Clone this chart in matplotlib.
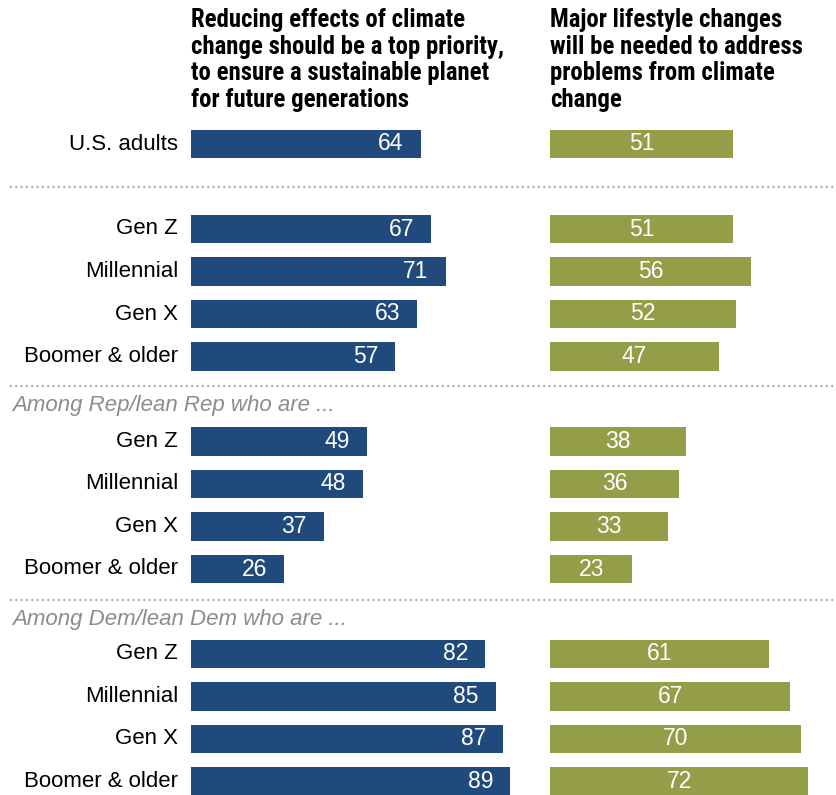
import matplotlib

matplotlib.use("Agg")
import matplotlib.pyplot as plt

labels = ["U.S. adults",
          "Gen Z", "Millennial", "Gen X", "Boomer & older",
          "Gen Z", "Millennial", "Gen X", "Boomer & older",
          "Gen Z", "Millennial", "Gen X", "Boomer & older"]
priority = [64, 67, 71, 63, 57, 49, 48, 37, 26, 82, 85, 87, 89]
lifestyle = [51, 51, 56, 52, 47, 38, 36, 33, 23, 61, 67, 70, 72]
rows = [0, 2, 3, 4, 5, 7, 8, 9, 10, 12, 13, 14, 15]
sections = [(6.16, "Among Rep/lean Rep who are ..."),
            (11.18, "Among Dem/lean Dem who are ...")]
dividers = [1.0, 5.69, 10.73]

W, H = 836, 795
blue = "#214a7c"
olive = "#949d48"
gray = "#8c8c8c"
body = "Liberation Sans"

fig = plt.figure(figsize=(W / 100, H / 100), dpi=100, facecolor="white")

# row units: 42.5 px per row, first row centred at 144 px
ytop = -144 / 42.5
ybot = (H - 144) / 42.5
ppu = 3.586  # pixels per percentage point

base = fig.add_axes([0, 0, 1, 1])
base.set_xlim(0, W)
base.set_ylim(ybot, ytop)
base.axis("off")

ax1 = fig.add_axes([191 / W, 0, 355 / W, 1])
ax2 = fig.add_axes([550 / W, 0, 286 / W, 1])
ax1.set_xlim(0, 355 / ppu)
ax2.set_xlim(0, 286 / ppu)
for ax, vals, col in ((ax1, priority, blue), (ax2, lifestyle, olive)):
    ax.set_ylim(ybot, ytop)
    ax.axis("off")
    ax.barh(rows, vals, height=0.66, color=col)

for r, v in zip(rows, priority):
    ax1.annotate(str(v), (v, r), xytext=(-17, 0), textcoords="offset pixels",
                 ha="right", va="center", color="white", fontsize=16.5, family=body)
for r, v in zip(rows, lifestyle):
    ax2.text(v / 2, r, str(v), ha="center", va="center", color="white", fontsize=16.5, family=body)

for r, lab in zip(rows, labels):
    base.text(178, r, lab, ha="right", va="center", fontsize=16, color="black", family=body)

for y in dividers:
    base.plot([10, W], [y, y], color="#a6a6a6", linewidth=1.6, linestyle=(0, (0.8, 1.6)))
for y, s in sections:
    base.text(12, y, s, ha="left", va="center", fontsize=16, color=gray, style="italic",
              family=body)

hdr = dict(ha="left", va="top", fontsize=17.8, fontweight="bold", color="black",
           family="Roboto Condensed", linespacing=1.14)
fig.text(191 / W, 1 - 8 / H,
         "Reducing effects of climate\nchange should be a top priority,\nto ensure a sustainable planet\nfor future generations",
         **hdr)
fig.text(550 / W, 1 - 8 / H,
         "Major lifestyle changes\nwill be needed to address\nproblems from climate\nchange",
         **hdr)

fig.savefig("out.png", dpi=100, facecolor="white")
